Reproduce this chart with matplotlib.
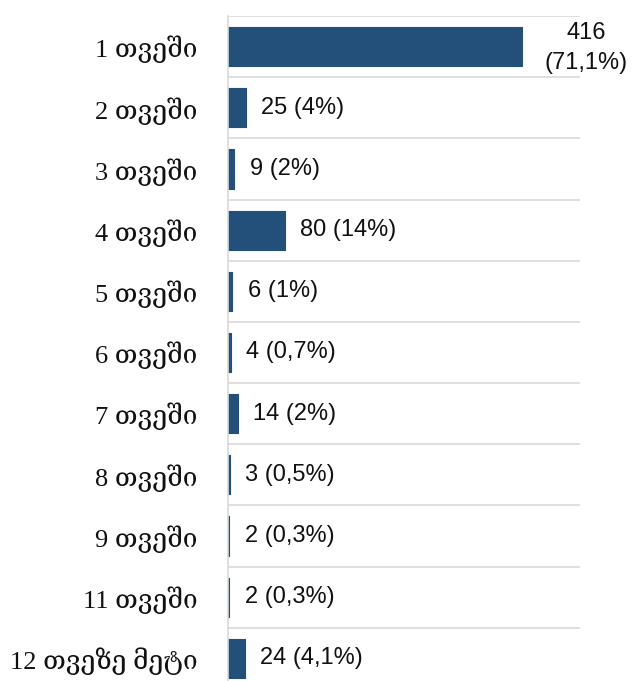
import matplotlib.pyplot as plt

categories = ['1 თვეში', '2 თვეში', '3 თვეში', '4 თვეში', '5 თვეში', '6 თვეში',
              '7 თვეში', '8 თვეში', '9 თვეში', '11 თვეში', '12 თვეზე მეტი']
counts = [416, 25, 9, 80, 6, 4, 14, 3, 2, 2, 24]
shares = ['71,1%', '4%', '2%', '14%', '1%', '0,7%', '2%', '0,5%', '0,3%', '0,3%', '4,1%']

bar_color = '#22507A'
grid_color = '#D9D9D9'
serif = ['Liberation Serif', 'DejaVu Serif', 'DejaVu Sans']
sans = ['Liberation Sans', 'DejaVu Sans']

fig = plt.figure(figsize=(6.33, 6.81), dpi=100)
# axes runs slightly past the bottom edge, as in the source
ax = fig.add_axes([228 / 633, -8 / 681, 352 / 633, 673 / 681])

n = len(categories)
ys = list(range(n))
ax.barh(ys, counts, height=0.64, color=bar_color, edgecolor=bar_color,
        linewidth=0.8, joinstyle='round')

ax.set_xlim(0, 498)
ax.set_ylim(n - 0.5, -0.5)

# horizontal separators between categories
for b in range(n):
    ax.axhline(b - 0.5, color=grid_color, lw=1.2, zorder=0)

for s in ['top', 'right', 'bottom']:
    ax.spines[s].set_visible(False)
ax.spines['left'].set_color(grid_color)
ax.spines['left'].set_linewidth(1.2)

ax.set_xticks([])
ax.set_yticks(ys)
ax.set_yticklabels(categories, family=serif, fontsize=19, color='#111111')
ax.tick_params(axis='y', length=0, pad=22)

for i, (c, s) in enumerate(zip(counts, shares)):
    if i == 0:
        ax.annotate(f'{c}\n({s})', (c, i), xytext=(46, -1), textcoords='offset points',
                    ha='center', va='center', family=sans, fontsize=17,
                    color='#111111', linespacing=1.5)
    else:
        ax.annotate(f'{c} ({s})', (c, i), xytext=(11, 0), textcoords='offset points',
                    ha='left', va='center', family=sans, fontsize=17, color='#111111')

fig.savefig('out.png', dpi=100, facecolor='white')
